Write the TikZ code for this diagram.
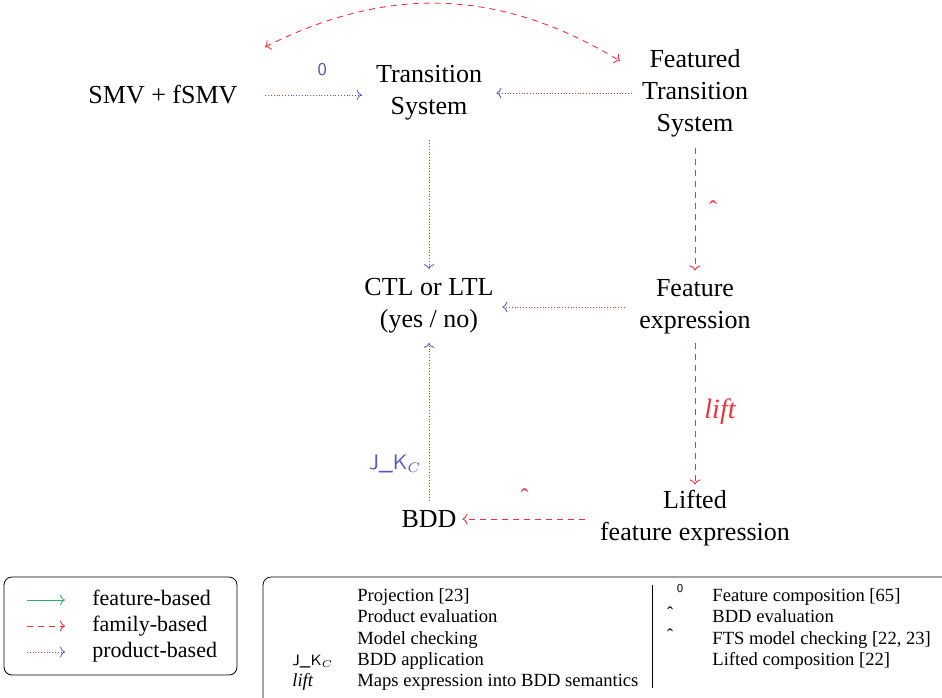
\documentclass[tikz,border=0pt]{standalone}
\usepackage{fontspec}
\setmainfont{Liberation Serif}
\usetikzlibrary{arrows.meta}
\definecolor{cred}{RGB}{238,50,60}
\definecolor{cblue}{RGB}{85,85,190}
\definecolor{cgreen}{RGB}{40,175,100}
\newcommand{\hatsym}{\symbol{"02C6}}
\begin{document}
\begin{tikzpicture}[x=0.5pt,y=-0.5pt,
  box/.style={inner sep=0pt, align=center, font=\fontsize{13}{16}\selectfont},
  fam/.style={cred, line width=0.45pt, dash pattern=on 3pt off 2.5pt, ->},
  prod/.style={cblue, densely dotted, ->},
  feat/.style={cgreen, ->},
  lbl/.style={inner sep=0pt},
  bluelbl/.style={lbl, text=cblue, font=\sffamily\fontsize{9}{10}\selectfont},
  redhat/.style={lbl, text=cred, font=\fontsize{12}{13}\selectfont},
  leg/.style={inner sep=0pt, anchor=base west, font=\fontsize{11}{13}\selectfont},
  legb/.style={inner sep=0pt, anchor=base west, font=\fontsize{9.3}{10.5}\selectfont},
  legsym/.style={inner sep=0pt, font=\fontsize{9}{10}\selectfont}]
\useasboundingbox (0,0) rectangle (942,697);

% main nodes
\node[box, minimum width=102pt] (smv) at (163,95) {SMV + fSMV};
\node[box, minimum width=67pt, minimum height=47pt] (ts) at (429,93) {Transition\\System};
\node[box, minimum width=63pt, minimum height=55pt] (fts) at (695,93) {Featured\\Transition\\System};
\node[box, minimum width=73pt, minimum height=36.5pt] (ctl) at (429,306) {CTL or LTL\\(yes / no)};
\node[box, minimum width=70pt, minimum height=36pt] (fe) at (695,307) {Feature\\expression};
\node[box, minimum width=110pt, minimum height=33pt] (lfe) at (695,518) {Lifted\\feature expression};
\node[box, minimum width=33pt, minimum height=18pt] (bdd) at (429,519) {BDD};

% connectors
\draw[prod] (smv.east) -- (smv.east -| ts.west)
  node[bluelbl, pos=0.59, yshift=12.5pt] {0};
\draw[prod] (fts.west) -- (ts.east);
\draw[prod] (ts.south) -- (ctl.north);
\draw[prod] (fe.west) -- (fe.west -| ctl.east);
\draw[prod] (bdd.north) -- (ctl.south)
  node[lbl, text=cblue, font=\sffamily\fontsize{10.5}{12}\selectfont, pos=0.234, xshift=-17pt] {J\_K$_C$};
\draw[fam] (fts.south) -- (fe.north)
  node[redhat, pos=0.50, xshift=9pt] {\hatsym};
\draw[fam] (fe.south) -- (lfe.north)
  node[lbl, text=cred, font=\itshape\fontsize{14}{16}\selectfont, pos=0.48, xshift=12.5pt] {lift};
\draw[fam] (lfe.west |- bdd.east) -- (bdd.east)
  node[redhat, pos=0.49, yshift=10.75pt] {\hatsym};
\coordinate (c1) at (265,47);
\coordinate (c2) at (620,61);
\draw[fam, <->] (c1) to[bend left=29] (c2);

% legend 1
\draw[rounded corners=4pt] (4,577) rectangle (237,675);
\coordinate (a1) at (27,600); \coordinate (b1) at (65,600);
\coordinate (a2) at (27,626); \coordinate (b2) at (65,626);
\coordinate (a3) at (27,652); \coordinate (b3) at (65,652);
\draw[feat] (a1) -- (b1);
\draw[fam] (a2) -- (b2);
\draw[prod] (a3) -- (b3);
\node[leg] (l1) at (92,605) {feature-based};
\node[leg] (l2) at (92,631) {family-based};
\node[leg] (l3) at (92,657) {product-based};

% legend 2
\draw[rounded corners=4pt] (263,705) -- (263,577) -- (950,577);
\draw (652,585) -- (652,688);
\node[legb] (p1) at (357,601.5) {Projection [23]};
\node[legb] (p2) at (357,622.8) {Product evaluation};
\node[legb] (p3) at (357,644.1) {Model checking};
\node[legb] (p4) at (357,665.4) {BDD application};
\node[legb] (p5) at (357,686.7) {Maps expression into BDD semantics};
\node[inner sep=0pt, anchor=base west, font=\sffamily\fontsize{7.5}{8}\selectfont] (s4) at (292,665.4) {J\_K$_C$};
\node[legb, font=\itshape\fontsize{9.3}{10.5}\selectfont] (s5) at (292,686.7) {lift};
\node[legb] (q1) at (712,601.5) {Feature composition [65]};
\node[legb] (q2) at (712,622.8) {BDD evaluation};
\node[legb] (q3) at (712,644.1) {FTS model checking [22, 23]};
\node[legb] (q4) at (712,665.4) {Lifted composition [22]};
\node[legsym, font=\sffamily\fontsize{6}{7}\selectfont] (r1) at (680,589) {0};
\node[legsym] (r2) at (670,613) {\hatsym};
\node[legsym] (r3) at (670,635) {\hatsym};
\end{tikzpicture}
\end{document}
